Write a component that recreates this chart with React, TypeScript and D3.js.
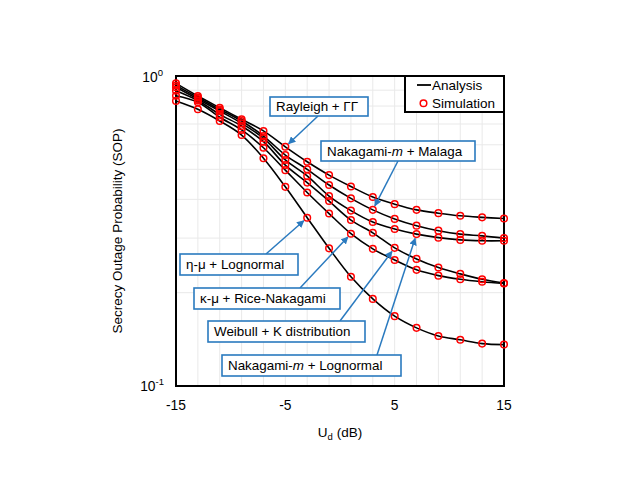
import React from 'react';
import * as d3 from 'd3';

// SNR grid (dB) shared by every curve
const snrDb = [-15, -13, -11, -9, -7, -5, -3, -1, 1, 3, 5, 7, 9, 11, 13, 15];

// SOP values
const rayleighGG = [0.947, 0.862, 0.79, 0.725, 0.665, 0.591, 0.529, 0.479, 0.44, 0.407, 0.386, 0.37, 0.361, 0.354, 0.35, 0.347];
const nakagamiMalaga = [0.932, 0.852, 0.78, 0.716, 0.64, 0.556, 0.5, 0.445, 0.403, 0.37, 0.346, 0.329, 0.317, 0.309, 0.305, 0.3];
const nakagamiLognormal = [0.92, 0.843, 0.771, 0.704, 0.63, 0.536, 0.476, 0.41, 0.368, 0.338, 0.321, 0.309, 0.301, 0.296, 0.294, 0.294];
const weibullK = [0.897, 0.834, 0.752, 0.69, 0.614, 0.516, 0.453, 0.395, 0.343, 0.312, 0.279, 0.257, 0.241, 0.23, 0.221, 0.215];
const kappaMuRice = [0.864, 0.823, 0.736, 0.67, 0.587, 0.497, 0.421, 0.36, 0.31, 0.277, 0.255, 0.237, 0.227, 0.221, 0.217, 0.214];
const etaMuLognormal = [0.831, 0.781, 0.716, 0.645, 0.543, 0.439, 0.349, 0.278, 0.225, 0.191, 0.168, 0.154, 0.145, 0.141, 0.137, 0.136];

const series = [rayleighGG, nakagamiMalaga, nakagamiLognormal, weibullK, kappaMuRice, etaMuLognormal];

const xTicks = [-15, -5, 5, 15];
const yMinor = [0.2, 0.3, 0.4, 0.5, 0.6, 0.7, 0.8, 0.9];

// callout boxes: label parts (italic flag), box rect, arrow start, target series + index
const callouts = [
  { parts: [['Rayleigh + ΓΓ', false]], box: [270, 97, 98, 19], from: [318, 116], data: rayleighGG, idx: 5 },
  { parts: [['Nakagami-', false], ['m', true], [' + Malaga', false]], box: [321, 141, 154, 20], from: [398, 161], data: nakagamiMalaga, idx: 9 },
  { parts: [['η-μ + Lognormal', false]], box: [180, 254, 118, 21], from: [266, 254], data: etaMuLognormal, idx: 6 },
  { parts: [['κ-μ + Rice-Nakagami', false]], box: [194, 288, 146, 21], from: [300, 288], data: kappaMuRice, idx: 8 },
  { parts: [['Weibull + K distribution', false]], box: [208, 321, 157, 21], from: [340, 321], data: weibullK, idx: 10 },
  { parts: [['Nakagami-', false], ['m', true], [' + Lognormal', false]], box: [222, 355, 179, 21], from: [377, 355], data: nakagamiLognormal, idx: 11 },
];

const W = 623;
const H = 481;
const plot = { left: 176, right: 504, top: 76, bottom: 386 };
const font = '"Liberation Sans", Arial, sans-serif';
const blue = '#2a7abf';

export default function App() {
  const x = d3.scaleLinear().domain([-15, 15]).range([plot.left, plot.right]);
  const y = d3.scaleLog().domain([0.1, 1]).range([plot.bottom, plot.top]);

  const line = d3.line<number>()
    .x((_, i) => x(snrDb[i]))
    .y(d => y(d))
    .curve(d3.curveCatmullRom.alpha(0.5));

  return (
    <div style={{ position: 'absolute', left: 0, top: 0 }}>
      <svg width={W} height={H} style={{ display: 'block', background: '#fff' }} fontFamily={font}>
        <defs>
          <marker id="arr" viewBox="0 0 10 10" refX="9" refY="5" markerWidth="5" markerHeight="5" orient="auto">
            <path d="M0,0 L10,5 L0,10 z" fill={blue} />
          </marker>
        </defs>

        {/* grid */}
        {snrDb.map(v => (
          <line key={'gx' + v} x1={x(v)} x2={x(v)} y1={plot.top} y2={plot.bottom} stroke="#e9e9e9" strokeWidth={1} />
        ))}
        {yMinor.map(v => (
          <line key={'gy' + v} x1={plot.left} x2={plot.right} y1={y(v)} y2={y(v)} stroke="#e9e9e9" strokeWidth={1} />
        ))}

        {/* curves */}
        {series.map((s, k) => (
          <path key={'l' + k} d={line(s) || ''} fill="none" stroke="#000" strokeWidth={1.6} />
        ))}

        {/* plot frame */}
        <rect x={plot.left} y={plot.top} width={plot.right - plot.left} height={plot.bottom - plot.top} fill="none" stroke="#000" strokeWidth={2} />

        {/* simulation markers drawn over the frame, like the reference */}
        {series.map((s, k) => s.map((v, i) => (
          <circle key={'c' + k + '-' + i} cx={x(snrDb[i])} cy={y(v)} r={3.3} fill="none" stroke="#ff0000" strokeWidth={1.5} />
        )))}

        {/* x tick labels */}
        {xTicks.map(v => (
          <text key={'xt' + v} x={x(v)} y={plot.bottom + 24} textAnchor="middle" fontSize={13.8}>{v}</text>
        ))}
        {/* y tick labels */}
        <text x={163} y={y(1) + 6} textAnchor="end" fontSize={13.8}>
          10<tspan fontSize={9.5} dy={-6}>0</tspan>
        </text>
        <text x={164} y={y(0.1) + 5} textAnchor="end" fontSize={13.8}>
          10<tspan fontSize={9.5} dy={-6}>-1</tspan>
        </text>

        {/* axis titles */}
        <text x={(plot.left + plot.right) / 2} y={437} textAnchor="middle" fontSize={13.5}>
          U<tspan fontSize={9.5} dy={3}>d</tspan><tspan dy={-3}> (dB)</tspan>
        </text>
        <text transform={`translate(122, ${(plot.top + plot.bottom) / 2}) rotate(-90)`} textAnchor="middle" fontSize={13.5}>
          Secrecy Outage Probability (SOP)
        </text>

        {/* legend */}
        <rect x={405} y={plot.top} width={plot.right - 405} height={36} fill="#fff" stroke="#000" strokeWidth={2} />
        <line x1={417} x2={431} y1={85} y2={85} stroke="#000" strokeWidth={1.8} />
        <text x={432} y={89.8} fontSize={13.5}>Analysis</text>
        <circle cx={423.5} cy={103.3} r={3.3} fill="none" stroke="#ff0000" strokeWidth={1.5} />
        <text x={432} y={108} fontSize={13.5}>Simulation</text>

        {/* callouts */}
        {callouts.map((c, k) => {
          const px = x(snrDb[c.idx]);
          const py = y(c.data[c.idx]);
          const dx = px - c.from[0];
          const dy = py - c.from[1];
          const len = Math.sqrt(dx * dx + dy * dy);
          const off = 4.5;
          const tx = px - (dx / len) * off;
          const ty = py - (dy / len) * off;
          const [bx, by, bw, bh] = c.box;
          return (
            <g key={'co' + k}>
              <line x1={c.from[0]} y1={c.from[1]} x2={tx} y2={ty} stroke={blue} strokeWidth={1.5} markerEnd="url(#arr)" />
              <rect x={bx} y={by} width={bw} height={bh} fill="#fff" stroke={blue} strokeWidth={1.6} />
              <text x={bx + 6} y={by + bh / 2 + 4.8} fontSize={13.4}>
                {c.parts.map((p, j) => (
                  <tspan key={j} fontStyle={p[1] ? 'italic' : 'normal'}>{p[0] as string}</tspan>
                ))}
              </text>
            </g>
          );
        })}
      </svg>
    </div>
  );
}
